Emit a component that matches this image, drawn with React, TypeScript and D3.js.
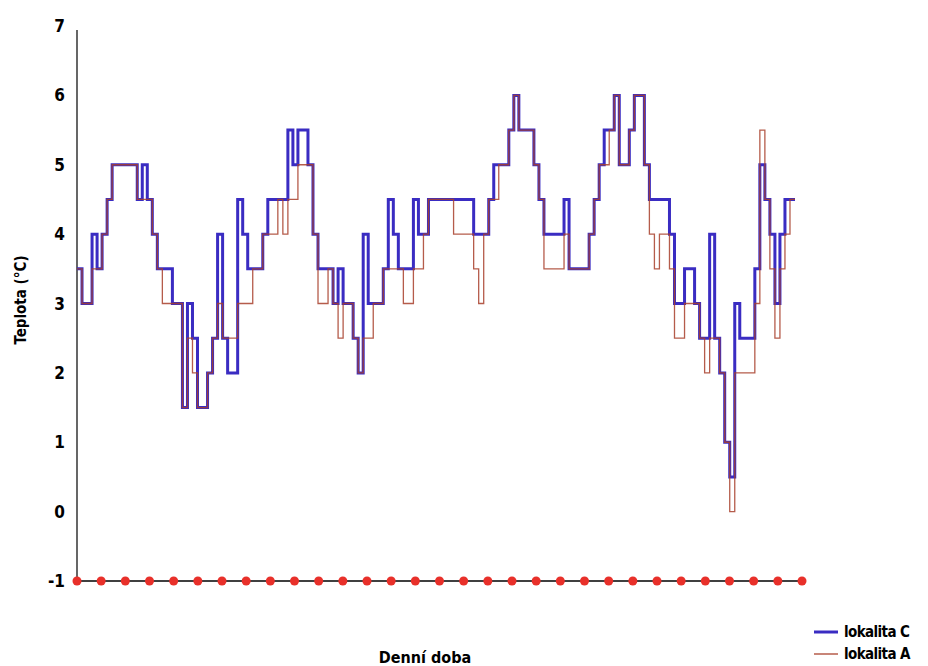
import React, { useRef, useEffect } from "react";
import * as d3 from "d3";

const W = 928;
const H = 666;

// temperature readings, one every 10 minutes across the day
const lokalitaC = [
  3.5, 3, 3, 4, 3.5, 4, 4.5, 5, 5, 5, 5, 5, 4.5, 5, 4.5, 4, 3.5, 3.5, 3.5, 3,
  3, 1.5, 3, 2.5, 1.5, 1.5, 2, 2.5, 4, 2.5, 2, 2, 4.5, 4, 3.5, 3.5, 3.5, 4, 4.5, 4.5,
  4.5, 4.5, 5.5, 5, 5.5, 5.5, 5, 4, 3.5, 3.5, 3.5, 3, 3.5, 3, 3, 2.5, 2, 4, 3, 3,
  3, 3.5, 4.5, 4, 3.5, 3.5, 3.5, 4.5, 4, 4, 4.5, 4.5, 4.5, 4.5, 4.5, 4.5, 4.5, 4.5, 4.5, 4,
  4, 4, 4.5, 5, 5, 5, 5.5, 6, 5.5, 5.5, 5.5, 5, 4.5, 4, 4, 4, 4, 4.5, 3.5, 3.5,
  3.5, 3.5, 4, 4.5, 5, 5.5, 5.5, 6, 5, 5, 5.5, 6, 6, 5, 4.5, 4.5, 4.5, 4.5, 4, 3,
  3, 3.5, 3.5, 3, 2.5, 2.5, 4, 2.5, 2, 1, 0.5, 3, 2.5, 2.5, 2.5, 3.5, 5, 4.5, 4, 3,
  4, 4.5, 4.5, 4.5,
];

const lokalitaA = [
  3.5, 3, 3, 3.5, 3.5, 4, 4.5, 5, 5, 5, 5, 5, 4.5, 4.5, 4.5, 4, 3.5, 3, 3, 3,
  3, 1.5, 2.5, 2, 1.5, 1.5, 2, 2.5, 3, 2.5, 2.5, 2.5, 3, 3, 3, 3.5, 3.5, 4, 4, 4,
  4.5, 4, 4.5, 4.5, 5, 5, 5, 4, 3, 3, 3.5, 3, 2.5, 3, 3, 2.5, 2, 2.5, 2.5, 3,
  3, 3.5, 3.5, 3.5, 3.5, 3, 3, 3.5, 3.5, 4, 4.5, 4.5, 4.5, 4.5, 4.5, 4, 4, 4, 4, 3.5,
  3, 4, 4.5, 4.5, 5, 5, 5.5, 6, 5.5, 5.5, 5.5, 5, 4.5, 3.5, 3.5, 3.5, 3.5, 4, 3.5, 3.5,
  3.5, 3.5, 4, 4.5, 5, 5, 5.5, 6, 5, 5, 5.5, 6, 6, 5, 4, 3.5, 4, 4, 3.5, 2.5,
  2.5, 3, 3, 3, 2.5, 2, 2.5, 2.5, 2, 1, 0, 2, 2, 2, 2, 3, 5.5, 4.5, 3.5, 2.5,
  3.5, 4, 4.5, 4.5,
];

// dotted reference series sitting on the x axis
const baseline = [
  -1, -1, -1, -1, -1, -1, -1, -1, -1, -1, -1, -1, -1, -1, -1, -1,
  -1, -1, -1, -1, -1, -1, -1, -1, -1, -1, -1, -1, -1, -1, -1,
];

const yTicks = [-1, 0, 1, 2, 3, 4, 5, 6, 7];

const series = [
  { name: "lokalita C", values: lokalitaC, color: "#3a2cc2", width: 3, opacity: 1 },
  { name: "lokalita A", values: lokalitaA, color: "#a8402c", width: 1.3, opacity: 0.85 },
];

const FONT = "'DejaVu Sans Condensed', 'Liberation Sans', Arial, sans-serif";

function TempChart() {
  const ref = useRef(null);

  useEffect(() => {
    const svg = d3.select(ref.current);
    svg.selectAll("*").remove();

    const x = d3.scaleLinear().domain([0, lokalitaC.length - 1]).range([77, 795]);
    const xDots = d3.scaleLinear().domain([0, baseline.length - 1]).range([77, 802]);
    const y = d3.scaleLinear().domain([-1, 7]).range([581, 26]);

    // y axis line + labels
    svg.append("line")
      .attr("x1", 77).attr("x2", 77)
      .attr("y1", y(7) + 4).attr("y2", y(-1))
      .attr("stroke", "#000").attr("stroke-width", 1.2);

    svg.append("g")
      .selectAll("text")
      .data(yTicks)
      .join("text")
      .attr("x", 65)
      .attr("y", (d) => y(d))
      .attr("dy", "0.36em")
      .attr("text-anchor", "end")
      .attr("font-family", FONT)
      .attr("font-weight", "bold")
      .attr("font-size", 17)
      .text((d) => d);

    // baseline with red markers
    svg.append("path")
      .datum(baseline)
      .attr("fill", "none")
      .attr("stroke", "#000")
      .attr("stroke-width", 1.6)
      .attr("d", d3.line<number>().x((_, i) => xDots(i)).y((d) => y(d)));

    svg.append("g")
      .selectAll("circle")
      .data(baseline)
      .join("circle")
      .attr("cx", (_, i) => xDots(i))
      .attr("cy", (d) => y(d))
      .attr("r", 4.5)
      .attr("fill", "#e8302a");

    // temperature lines
    const line = d3.line<number>()
      .x((_, i) => x(i))
      .y((d) => y(d))
      .curve(d3.curveStepAfter);

    svg.append("g")
      .selectAll("path")
      .data(series)
      .join("path")
      .attr("fill", "none")
      .attr("stroke", (d) => d.color)
      .attr("stroke-width", (d) => d.width)
      .attr("stroke-opacity", (d) => d.opacity)
      .attr("d", (d) => line(d.values));

    // axis titles
    svg.append("text")
      .attr("transform", `translate(26, 300) rotate(-90)`)
      .attr("text-anchor", "middle")
      .attr("font-family", FONT)
      .attr("font-weight", "bold")
      .attr("font-size", 15)
      .text("Teplota (°C)");

    svg.append("text")
      .attr("x", 425)
      .attr("y", 663)
      .attr("text-anchor", "middle")
      .attr("font-family", FONT)
      .attr("font-weight", "bold")
      .attr("font-size", 16)
      .text("Denní doba");

    // legend
    const legend = svg.append("g")
      .selectAll("g")
      .data(series)
      .join("g")
      .attr("transform", (_, i) => `translate(814, ${632 + i * 22})`);

    legend.append("line")
      .attr("x1", 0).attr("x2", 24)
      .attr("stroke", (d) => d.color)
      .attr("stroke-width", (_, i) => (i === 0 ? 3 : 1.5))
      .attr("stroke-opacity", (d) => d.opacity);

    legend.append("text")
      .attr("x", 30)
      .attr("dy", "0.35em")
      .attr("font-family", FONT)
      .attr("font-weight", "bold")
      .attr("font-size", 15)
      .attr("letter-spacing", -0.6)
      .text((d) => d.name);
  }, []);

  return <svg ref={ref} width={W} height={H} style={{ position: "absolute", left: 0, top: 0, background: "#fff" }} />;
}

export default function App() {
  return <TempChart />;
}
